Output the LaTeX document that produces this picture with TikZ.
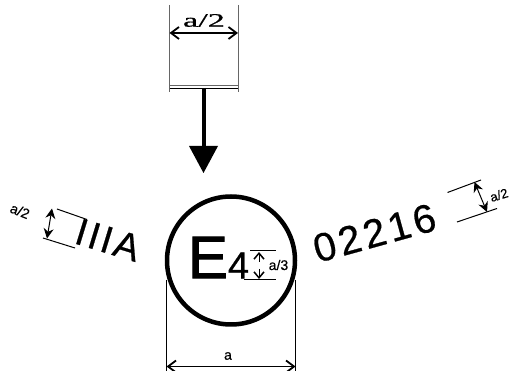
\documentclass[tikz,border=0pt]{standalone}
\usepackage{fontspec}
\setmainfont{Liberation Sans}
\newfontfamily\serifpart[FakeBold=0.6]{Liberation Serif}
\newfontfamily\headfont[FakeBold=1.4]{Liberation Sans}
\newfontfamily\markfont[FakeBold=0.6]{Liberation Sans}
\newfontfamily\smallfont[FakeBold=0.4]{Liberation Sans}
\usetikzlibrary{arrows.meta,positioning}

\begin{document}
\begin{tikzpicture}[
    x=1pt, y=-1pt,
    dimline/.style={line width=1pt, black},
    faintline/.style={line width=0.7pt, black!60},
    barbdim/.style={line width=1.2pt, {Straight Barb[length=8pt,width=12pt,line width=1.8pt]}-{Straight Barb[length=8pt,width=12pt,line width=1.8pt]}},
    solidim/.style={line width=1pt, {Stealth[length=10pt,width=10pt]}-{Stealth[length=10pt,width=10pt]}},
    mark text/.style={inner sep=0pt, font=\markfont\fontsize{38}{38}\selectfont},
    small text/.style={inner sep=0pt, font=\smallfont\fontsize{14}{14}\selectfont}
]
    \useasboundingbox (0,0) rectangle (509,371);

    % Mark
    \node[circle, draw, line width=4.5pt, minimum size=128pt, inner sep=0pt, outer sep=0pt] (ring) at (231,260.5) {};
    \node[inner sep=0pt, font=\headfont\fontsize{60}{60}\selectfont] (letterE) at (208,257.5) {E};
    \node[mark text] (digit) at (238.5,265.5) {4};
    \node[mark text, rotate=-17] (prefix) at (108,240) {I\kern2.6pt I\kern2.6pt I\kern3pt A};
    \node[mark text, font=\markfont\fontsize{40}{40}\selectfont, rotate=15.5] (number) at (374.5,233) {0\kern3.5pt 2\kern3.5pt 2\kern3.5pt 1\kern3.5pt 6};

    % Top column
    \coordinate (colTL) at (169.5,5);
    \coordinate (colBL) at (169.5,92);
    \coordinate (colTR) at (238,5);
    \coordinate (colBR) at (238,92);
    \coordinate (colAL) at (169.5,33);
    \coordinate (colAR) at (238,33);
    \coordinate (barL) at (169.5,85);
    \coordinate (barR) at (238,85);
    \coordinate (barLL) at (169.5,88);
    \coordinate (barRR) at (238,88);
    \coordinate (shaftEnd) at (203.5,173);
    \coordinate (shaftStart) at (203.5,88);
    \node[inner sep=0pt, font=\serifpart\fontsize{19}{19}\selectfont, xscale=1.8] (topLabel) at (204,20.5) {a/2};
    \draw[faintline] (colTL) -- (colBL);
    \draw[faintline] (colTR) -- (colBR);
    \draw[faintline] (barL) -- (barR);
    \draw[line width=0.8pt] (barLL) -- (barRR);
    \draw[barbdim] (colAL) -- (colAR);
    \draw[line width=4pt, -{Triangle[length=27pt,width=29pt,black,line width=0pt]}] (shaftStart) -- (shaftEnd);

    % Diameter
    \coordinate (diaTL) at (166.5,280);
    \coordinate (diaBL) at (166.5,371);
    \coordinate (diaTR) at (295.5,280);
    \coordinate (diaBR) at (295.5,371);
    \coordinate (diaAL) at (166.5,366.5);
    \coordinate (diaAR) at (295.5,366.5);
    \node[small text] (diaLabel) at (228,356) {a};
    \draw[dimline] (diaTL) -- (diaBL);
    \draw[dimline] (diaTR) -- (diaBR);
    \draw[barbdim] (diaAL) -- (diaAR);

    % Digit height
    \coordinate (digTL) at (250,251);
    \coordinate (digTR) at (276,251);
    \coordinate (digBL) at (244,279.5);
    \coordinate (digBR) at (276,279.5);
    \coordinate (digAT) at (259,252);
    \coordinate (digAM) at (259,262);
    \coordinate (digAN) at (259,269);
    \coordinate (digAB) at (259,279);
    \node[small text] (digLabel) at (278.5,265) {a/3};
    \draw[dimline] (digTL) -- (digTR);
    \draw[dimline] (digBL) -- (digBR);
    \draw[line width=0.8pt, {Straight Barb[length=6pt,width=10pt,line width=1.5pt]}-] (digAT) -- (digAM);
    \draw[line width=0.8pt, -{Straight Barb[length=6pt,width=10pt,line width=1.5pt]}] (digAN) -- (digAB);

    % Left height
    \coordinate (leftTL) at (57,209);
    \coordinate (leftTR) at (87,219.5);
    \coordinate (leftBL) at (43,238);
    \coordinate (leftBR) at (75,248);
    \coordinate (leftAT) at (52,208.5);
    \coordinate (leftAB) at (47,238.5);
    \node[small text, rotate=-22] (leftLabel) at (20,211) {a/2};
    \draw[dimline] (leftTL) -- (leftTR);
    \draw[dimline] (leftBL) -- (leftBR);
    \draw[solidim] (leftAT) -- (leftAB);

    % Right height
    \coordinate (rightTL) at (447.5,192.5);
    \coordinate (rightTR) at (481,180);
    \coordinate (rightBL) at (457,222);
    \coordinate (rightBR) at (497,208.5);
    \coordinate (rightAT) at (474.5,182);
    \coordinate (rightAB) at (487,212);
    \node[small text, font=\smallfont\fontsize{13}{13}\selectfont, rotate=17] (rightLabel) at (499,195) {a/2};
    \draw[dimline] (rightTL) -- (rightTR);
    \draw[dimline] (rightBL) -- (rightBR);
    \draw[solidim] (rightAT) -- (rightAB);
\end{tikzpicture}
\end{document}
